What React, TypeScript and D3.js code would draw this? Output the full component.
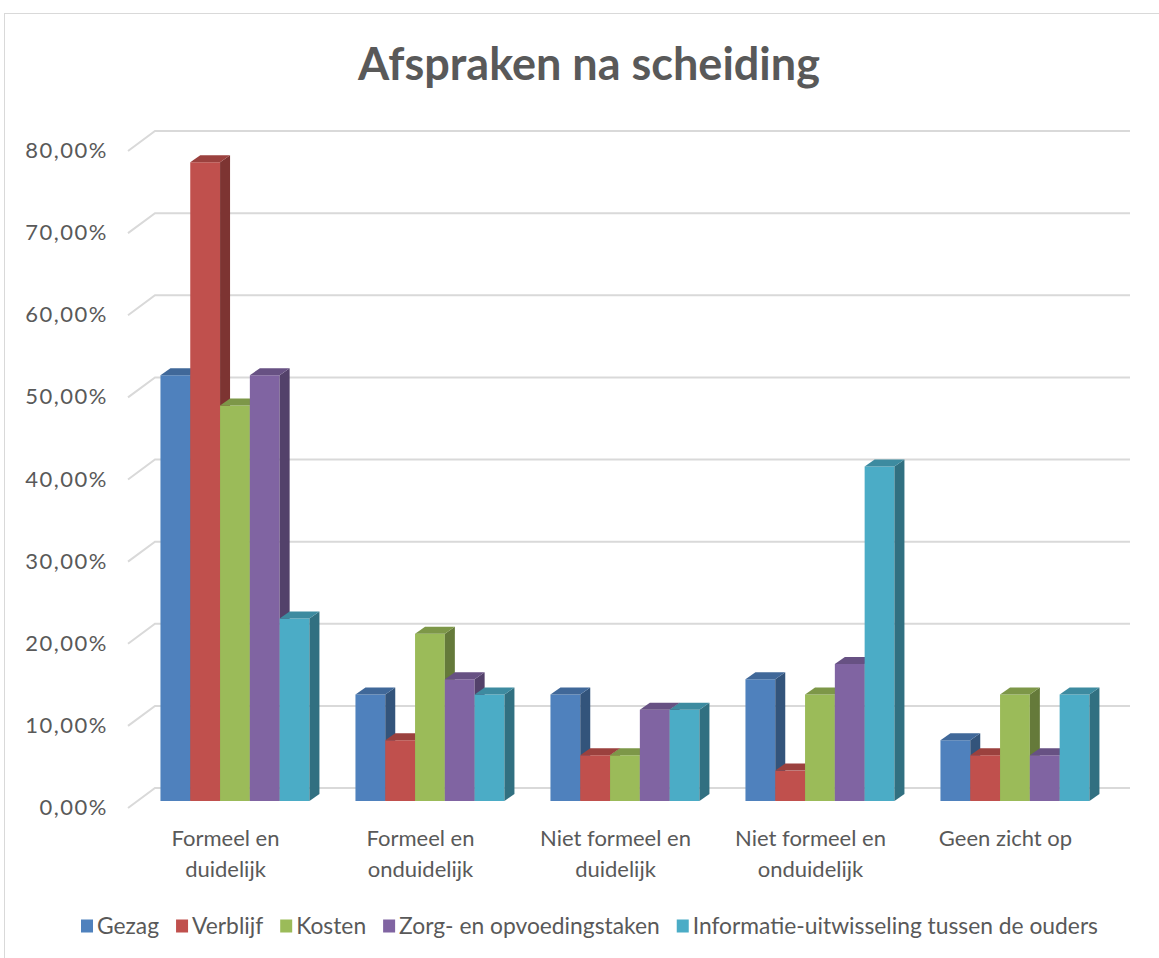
import React, { useEffect, useRef } from "react";
import * as d3 from "d3";

const categories = [
  ["Formeel en", "duidelijk"],
  ["Formeel en", "onduidelijk"],
  ["Niet formeel en", "duidelijk"],
  ["Niet formeel en", "onduidelijk"],
  ["Geen zicht op"],
];
const seriesNames = [
  "Gezag",
  "Verblijf",
  "Kosten",
  "Zorg- en opvoedingstaken",
  "Informatie-uitwisseling tussen de ouders",
];
const seriesColors = ["#4F81BD", "#C0504D", "#9BBB59", "#8064A2", "#4BACC6"];
// values in percent, per series, per category
const gezag = [51.85, 12.96, 12.96, 14.81, 7.41];
const verblijf = [77.78, 7.41, 5.56, 3.7, 5.56];
const kosten = [48.15, 20.37, 5.56, 12.96, 12.96];
const zorg = [51.85, 14.81, 11.11, 16.67, 5.56];
const informatie = [22.22, 12.96, 11.11, 40.74, 12.96];
const seriesValues = [gezag, verblijf, kosten, zorg, informatie];
const yTicks = [0, 10, 20, 30, 40, 50, 60, 70, 80];
const title = "Afspraken na scheiding";

const W = 1159;
const H = 958;
const FONT = "Lato, 'Open Sans', sans-serif";
const TXT = "#595959";

export default function App() {
  const ref = useRef<SVGSVGElement>(null);

  useEffect(() => {
    const svg = d3.select(ref.current);
    svg.selectAll("*").remove();

    // chart border
    svg.append("rect")
      .attr("x", 4.5).attr("y", 13.5)
      .attr("width", W + 20).attr("height", H + 20)
      .attr("fill", "#fff").attr("stroke", "#D9D9D9").attr("stroke-width", 1);

    // title
    svg.append("text")
      .attr("x", 589).attr("y", 80)
      .attr("text-anchor", "middle")
      .attr("font-family", FONT).attr("font-weight", 700)
      .attr("font-size", 45).attr("fill", TXT)
      .text(title);

    // 3D geometry
    const depthX = 27, depthY = 20; // full floor depth
    const frontLeft = 128, frontRight = 1103;
    const yFront = d3.scaleLinear().domain([0, 80]).range([808, 151]);
    const barF = 0.35; // depth fraction of bar front plane
    const barDX = 10, barDY = 7; // bar depth

    // gridlines
    const g = svg.append("g");
    yTicks.forEach((t) => {
      const yf = yFront(t);
      const yb = yf - depthY;
      g.append("path")
        .attr("d", `M${frontLeft},${yf} L${frontLeft + depthX},${yb} L${frontRight + depthX},${yb}`)
        .attr("fill", "none").attr("stroke", "#D9D9D9").attr("stroke-width", 2);
      svg.append("text")
        .attr("x", 108).attr("y", yf + 7)
        .attr("text-anchor", "end")
        .attr("font-family", FONT).attr("font-size", 22)
        .attr("letter-spacing", 1.5).attr("fill", TXT)
        .text(d3.format(".2f")(t).replace(".", ",") + "%");
    });

    // scales at the bar plane
    const shiftX = depthX * barF;
    const shiftY = depthY * barF;
    const x0 = d3.scaleBand<number>()
      .domain(categories.map((_, i) => i))
      .range([frontLeft + shiftX, frontRight + shiftX])
      .paddingInner(0.236).paddingOuter(0.118);
    const x1 = d3.scaleBand<number>()
      .domain(seriesNames.map((_, i) => i))
      .range([0, x0.bandwidth()]);
    const yBar = (v: number) => yFront(v) - shiftY;

    const bars = svg.append("g");
    categories.forEach((_, ci) => {
      seriesNames.forEach((__, si) => {
        const v = seriesValues[si][ci];
        const c = d3.color(seriesColors[si])!;
        const xl = x0(ci)! + x1(si)!;
        const xr = xl + x1.bandwidth();
        const yt = yBar(v);
        const yb = yBar(0);
        bars.append("path")
          .attr("d", `M${xl},${yb} L${xl},${yt} L${xr},${yt} L${xr},${yb} Z`)
          .attr("fill", seriesColors[si]);
        bars.append("path")
          .attr("d", `M${xr},${yb} L${xr},${yt} L${xr + barDX},${yt - barDY} L${xr + barDX},${yb - barDY} Z`)
          .attr("fill", c.darker(1.2).formatHex());
        bars.append("path")
          .attr("d", `M${xl},${yt} L${xl + barDX},${yt - barDY} L${xr + barDX},${yt - barDY} L${xr},${yt} Z`)
          .attr("fill", c.darker(0.6).formatHex());
      });
    });

    // category labels (front plane)
    const xc = d3.scaleBand<number>()
      .domain(categories.map((_, i) => i))
      .range([frontLeft, frontRight]);
    categories.forEach((lines, ci) => {
      const t = svg.append("text")
        .attr("text-anchor", "middle")
        .attr("font-family", FONT).attr("font-size", 22).attr("fill", TXT);
      lines.forEach((ln, li) => {
        t.append("tspan")
          .attr("x", xc(ci)! + xc.bandwidth() / 2)
          .attr("y", 846 + li * 31)
          .text(ln);
      });
    });

    // legend
    const leg = svg.append("g");
    const items: { g: any; w: number }[] = [];
    seriesNames.forEach((name, si) => {
      const it = leg.append("g");
      it.append("rect").attr("x", 0).attr("y", -6.5).attr("width", 12).attr("height", 13)
        .attr("fill", seriesColors[si]);
      const tx = it.append("text").attr("x", 16).attr("y", 7.5)
        .attr("font-family", FONT).attr("font-size", 22.8).attr("fill", TXT)
        .text(name);
      const w = 16 + (tx.node() as SVGTextElement).getComputedTextLength();
      items.push({ g: it, w });
    });
    const gap = 17;
    const total = d3.sum(items, (d) => d.w) + gap * (items.length - 1);
    let cx = 589.5 - total / 2;
    items.forEach((d) => {
      d.g.attr("transform", `translate(${cx},926)`);
      cx += d.w + gap;
    });
  }, []);

  return (
    <svg
      ref={ref}
      width={W}
      height={H}
      style={{ position: "absolute", left: 0, top: 0, background: "#fff" }}
    />
  );
}
